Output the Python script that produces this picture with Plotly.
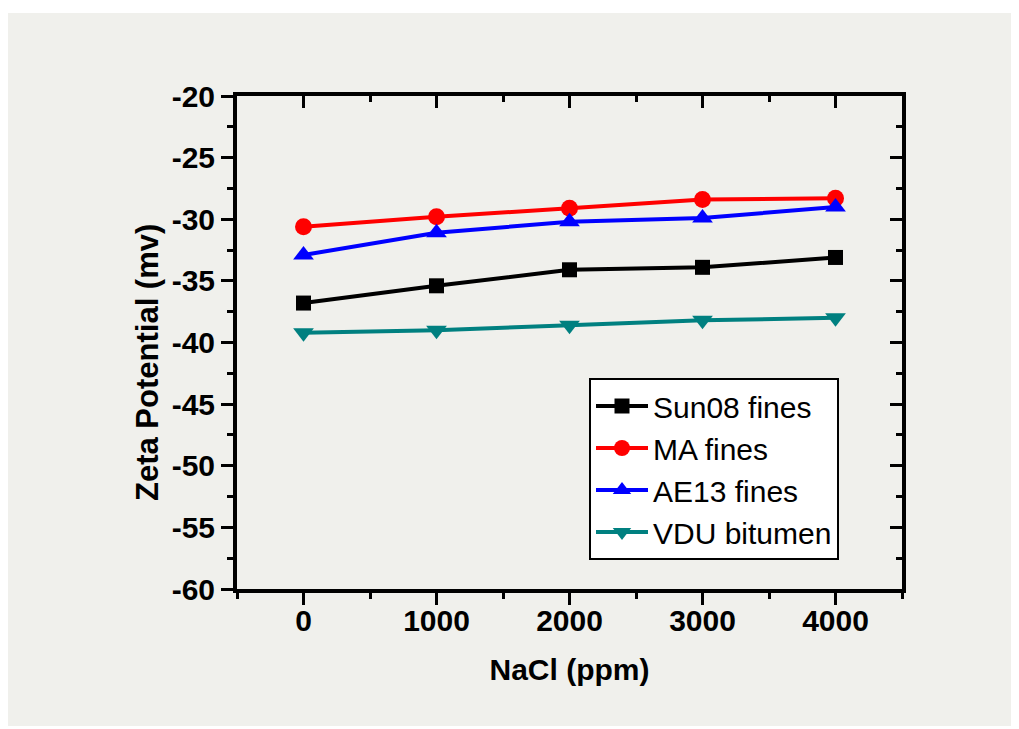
import plotly.graph_objects as go

nacl = [0, 1000, 2000, 3000, 4000]
sun08 = [-36.8, -35.4, -34.1, -33.9, -33.1]
ma = [-30.6, -29.8, -29.1, -28.4, -28.3]
ae13 = [-32.9, -31.1, -30.2, -29.9, -29.0]
vdu = [-39.2, -39.0, -38.6, -38.2, -38.0]

x_ticks = [0, 1000, 2000, 3000, 4000]
x_labels = ["0", "1000", "2000", "3000", "4000"]
y_ticks = [-60, -55, -50, -45, -40, -35, -30, -25, -20]
y_labels = ["-60", "-55", "-50", "-45", "-40", "-35", "-30", "-25", "-20"]

series = [
    ("Sun08 fines", sun08, "#000000", "square", 15),
    ("MA fines", ma, "#ff0000", "circle", 17),
    ("AE13 fines", ae13, "#0000ff", "triangle-up", 18),
    ("VDU bitumen", vdu, "#008080", "triangle-down", 18),
]

BG = "#f0f0ec"
FONT = "Liberation Sans, Arial, sans-serif"

fig = go.Figure()
for name, ys, col, sym, sz in series:
    fig.add_trace(go.Scatter(
        x=nacl, y=ys, name=name, mode="lines+markers",
        line=dict(color=col, width=4),
        marker=dict(symbol=sym, size=sz, color=col),
    ))

# invisible carrier so the mirrored (top/right) frame axes get drawn
fig.add_trace(go.Scatter(
    x=nacl, y=sun08, xaxis="x2", yaxis="y2", mode="markers",
    marker=dict(opacity=0), showlegend=False, hoverinfo="skip",
))

L, R, T, B = 237, 117, 96, 140
W, H = 1019, 729
pw, ph = W - L - R, H - T - B

def px(xp):
    return (xp - L) / pw

def py(yp):
    return (H - B - yp) / ph

tickfont = dict(family=FONT, size=30, color="black", weight="bold")

axis_common = dict(showline=True, linewidth=4, linecolor="black",
                   showgrid=False, zeroline=False, tickwidth=3,
                   tickcolor="black")

fig.update_layout(
    width=W, height=H,
    margin=dict(l=L, r=R, t=T, b=B, pad=0),
    paper_bgcolor="white",
    plot_bgcolor=BG,
    showlegend=True,
    legend=dict(
        x=px(589), y=py(378), xanchor="left", yanchor="top",
        bgcolor="white", bordercolor="black", borderwidth=2,
        font=dict(family=FONT, size=30, color="black"),
        itemwidth=52, tracegroupgap=0,
    ),
    xaxis=dict(
        range=[-500, 4500], tickvals=x_ticks, ticktext=x_labels,
        ticks="outside", ticklen=12, tickfont=tickfont,
        ticklabelstandoff=-10,
        minor=dict(ticks="outside", dtick=500, tick0=0, ticklen=6, tickwidth=3, tickcolor="black"),
        title=dict(text="NaCl (ppm)", font=dict(family=FONT, size=30, color="black", weight="bold"), standoff=24),
        automargin=False,
        **axis_common,
    ),
    yaxis=dict(
        range=[-60, -20], tickvals=y_ticks, ticktext=y_labels,
        ticks="outside", ticklen=12, tickfont=tickfont,
        minor=dict(ticks="outside", dtick=2.5, tick0=-60, ticklen=6, tickwidth=3, tickcolor="black"),
        automargin=False,
        **axis_common,
    ),
    xaxis2=dict(
        overlaying="x", side="top", anchor="y",
        range=[-500, 4500], tickvals=x_ticks, showticklabels=False,
        ticks="inside", ticklen=12,
        minor=dict(ticks="inside", dtick=500, tick0=0, ticklen=6, tickwidth=3, tickcolor="black"),
        **axis_common,
    ),
    yaxis2=dict(
        overlaying="y", side="right", anchor="x",
        range=[-60, -20], tickvals=y_ticks, showticklabels=False,
        ticks="inside", ticklen=12,
        minor=dict(ticks="inside", dtick=2.5, tick0=-60, ticklen=6, tickwidth=3, tickcolor="black"),
        **axis_common,
    ),
    annotations=[dict(
        text="Zeta Potential (mv)", textangle=-90, showarrow=False,
        xref="paper", yref="paper", x=px(147), y=py(363),
        xanchor="center", yanchor="middle",
        font=dict(family=FONT, size=31, color="black", weight="bold"),
    )],
    shapes=[dict(
        type="rect", xref="paper", yref="paper", layer="below",
        x0=px(8), x1=px(1011), y0=py(726), y1=py(13),
        fillcolor=BG, line=dict(width=0),
    )],
)

fig.write_html("out.html")
